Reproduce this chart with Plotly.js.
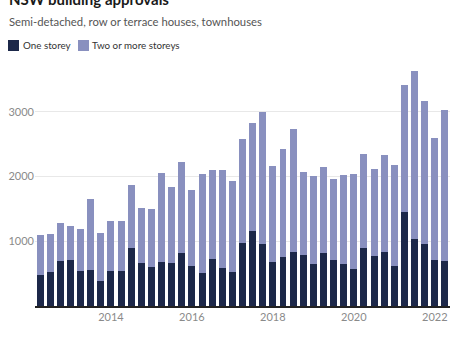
<!DOCTYPE html>
<html>
<head>
<meta charset="utf-8">
<script src="https://cdn.plot.ly/plotly-3.0.1.min.js"></script>
<style>html,body{margin:0;padding:0;background:#fff;}#chart{width:454px;height:341px;}</style>
</head>
<body>
<div id="chart"></div>
<script>
// Quarters (one bar per quarter)
const quarters = [
  "2012-Q2","2012-Q3","2012-Q4",
  "2013-Q1","2013-Q2","2013-Q3","2013-Q4",
  "2014-Q1","2014-Q2","2014-Q3","2014-Q4",
  "2015-Q1","2015-Q2","2015-Q3","2015-Q4",
  "2016-Q1","2016-Q2","2016-Q3","2016-Q4",
  "2017-Q1","2017-Q2","2017-Q3","2017-Q4",
  "2018-Q1","2018-Q2","2018-Q3","2018-Q4",
  "2019-Q1","2019-Q2","2019-Q3","2019-Q4",
  "2020-Q1","2020-Q2","2020-Q3","2020-Q4",
  "2021-Q1","2021-Q2","2021-Q3","2021-Q4",
  "2022-Q1","2022-Q2"
];
// One storey approvals
const oneStorey = [
  480, 532, 691, 717, 547, 562, 393, 547, 547, 902, 671, 609, 686, 665,
  815, 613, 510, 722, 583, 521, 969, 1159, 964, 686, 757, 835, 788, 645,
  825, 711, 645, 578, 897, 773, 830, 618, 1459, 1031, 954, 706, 696
];
// Two or more storeys approvals
const twoPlusStoreys = [
  625, 588, 587, 520, 643, 1098, 741, 762, 762, 974, 850, 891, 1370, 1180,
  1406, 1186, 1536, 1386, 1525, 1417, 1612, 1676, 2041, 1478, 1670, 1896, 1283, 1364,
  1323, 1247, 1380, 1457, 1448, 1340, 1499, 1557, 1952, 2601, 2221, 1897, 2329
];
// Axis ticks
const xTickVals = ["2014-Q1","2016-Q1","2018-Q1","2020-Q1","2022-Q1"];
const xTickText = ["2014","2016","2018","2020","2022"];
const yTickVals = [1000, 2000, 3000];
const yTickText = ["1000", "2000", "3000"];

const seriesNames = ["One storey", "Two or more storeys"];
const titleText = "NSW building approvals";
const subtitleText = "Semi-detached, row or terrace houses, townhouses";

const DARK = "#1c2849";
const LIGHT = "#8990bf";
const FONT = "Lato, 'Open Sans', sans-serif";

const M = {l: 35, r: 4, t: 66, b: 35};
const PW = 454 - M.l - M.r, PH = 341 - M.t - M.b;
const px = x => (x - M.l) / PW;
const py = y => (341 - M.b - y) / PH;

const traces = [
  {type: "bar", x: quarters, y: oneStorey, name: seriesNames[0],
   marker: {color: DARK}, hoverinfo: "skip"},
  {type: "bar", x: quarters, y: twoPlusStoreys, name: seriesNames[1],
   marker: {color: LIGHT}, hoverinfo: "skip"}
];

const layout = {
  width: 454, height: 341,
  margin: M,
  paper_bgcolor: "#fff", plot_bgcolor: "#fff",
  barmode: "stack", bargap: 0.31,
  showlegend: false,
  font: {family: FONT, color: "#333"},
  xaxis: {
    type: "category",
    categoryorder: "array", categoryarray: quarters,
    range: [-0.5, quarters.length - 0.5],
    tickmode: "array", tickvals: xTickVals, ticktext: xTickText,
    ticks: "", showgrid: false, zeroline: false,
    showline: true, linecolor: "#222", linewidth: 1.6,
    tickfont: {family: FONT, size: 11, color: "#8a8a8a"},
    fixedrange: true
  },
  yaxis: {
    range: [0, 3710],
    tickmode: "array", tickvals: yTickVals, ticktext: yTickText,
    ticks: "", showline: false, zeroline: false,
    showgrid: true, gridcolor: "#e8e8e8", gridwidth: 1,
    tickfont: {family: FONT, size: 11, color: "#8a8a8a"},
    fixedrange: true
  },
  shapes: [
    {type: "rect", xref: "paper", yref: "paper",
     x0: px(8), x1: px(19), y0: py(51), y1: py(40),
     fillcolor: DARK, line: {width: 0}},
    {type: "rect", xref: "paper", yref: "paper",
     x0: px(78), x1: px(89), y0: py(51), y1: py(40),
     fillcolor: LIGHT, line: {width: 0}}
  ],
  annotations: [
    {text: "<b>" + titleText + "</b>", xref: "paper", yref: "paper",
     x: px(7), y: py(-1), xanchor: "left", yanchor: "middle", showarrow: false,
     font: {family: FONT, size: 15, color: "#1a1a1a"}},
    {text: subtitleText, xref: "paper", yref: "paper",
     x: px(7), y: py(21), xanchor: "left", yanchor: "middle", showarrow: false,
     font: {family: FONT, size: 11.3, color: "#555"}},
    {text: seriesNames[0], xref: "paper", yref: "paper",
     x: px(21), y: py(45.5), xanchor: "left", yanchor: "middle", showarrow: false,
     font: {family: FONT, size: 9.8, color: "#333"}},
    {text: seriesNames[1], xref: "paper", yref: "paper",
     x: px(90), y: py(45.5), xanchor: "left", yanchor: "middle", showarrow: false,
     font: {family: FONT, size: 9.8, color: "#333"}}
  ]
};

Plotly.newPlot("chart", traces, layout, {staticPlot: true, displayModeBar: false});
</script>
</body>
</html>
